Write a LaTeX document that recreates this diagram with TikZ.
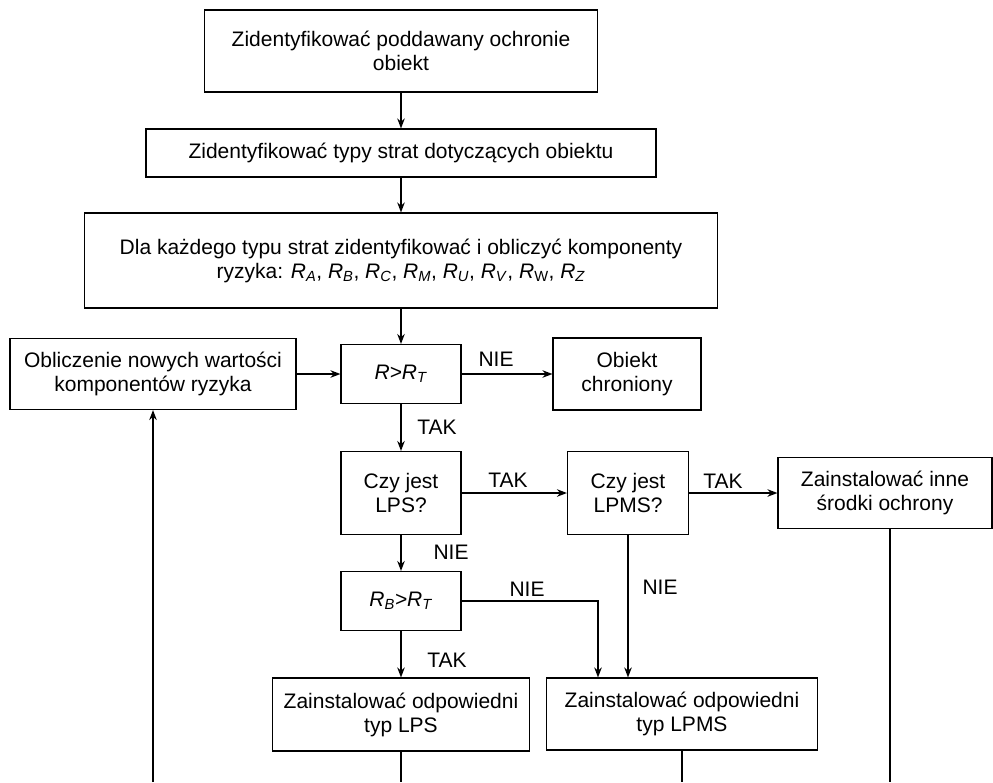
\documentclass[tikz,border=0pt]{standalone}
\usepackage{fontspec}
\setmainfont{Liberation Sans}
\usetikzlibrary{arrows.meta}
\newcommand\Rsub[1]{\textit{R}\textsubscript{\textit{#1}}}
\newcommand\Rsubup[1]{\textit{R}\textsubscript{#1}}
\begin{document}
\begin{tikzpicture}[x=1pt,y=-1pt,
  box/.style={draw, line width=1.1pt, align=center, inner sep=0pt, font=\fontsize{21}{24}\selectfont},
  lbl/.style={font=\fontsize{21}{24}\selectfont, inner sep=0pt},
  arr/.style={line width=2pt, -{Stealth[length=10pt,width=7.5pt]}},
  ln/.style={line width=2pt}]
\useasboundingbox (0,0) rectangle (993,782);

\node[box, minimum width=393pt, minimum height=82pt] (b1) at (401,51) {Zidentyfikować poddawany ochronie\\obiekt};
\node[box, minimum width=510pt, minimum height=48pt] (b2) at (401,153) {Zidentyfikować typy strat dotyczących obiektu};
\node[box, minimum width=633pt, minimum height=95pt] (b3) at (401,260.5) {Dla każdego typu strat zidentyfikować i obliczyć komponenty\\ryzyka: \Rsub{A}, \Rsub{B}, \Rsub{C}, \Rsub{M}, \Rsub{U}, \Rsub{V}, \Rsubup{W}, \Rsub{Z}};
\node[box, minimum width=286pt, minimum height=71pt] (calc) at (153,374) {Obliczenie nowych wartości\\komponentów ryzyka};
\node[box, minimum width=120pt, minimum height=59pt] (rrt) at (401,374) {\textit{R>}\Rsub{T}};
\node[box, minimum width=148pt, minimum height=72pt] (obj) at (627,374) {Obiekt\\chroniony};
\node[box, minimum width=120pt, minimum height=83pt] (lps) at (401,493) {Czy jest\\LPS?};
\node[box, minimum width=121pt, minimum height=83pt] (lpms) at (628,493) {Czy jest\\LPMS?};
\node[box, minimum width=214pt, minimum height=71pt] (inne) at (885,493) {Zainstalować inne\\środki ochrony};
\node[box, minimum width=120pt, minimum height=59pt] (rb) at (401,601) {\Rsub{B}\textit{>}\Rsub{T}};
\node[box, minimum width=257pt, minimum height=73pt] (ilps) at (401,714.5) {Zainstalować odpowiedni\\typ LPS};
\node[box, minimum width=271pt, minimum height=72pt] (ilpms) at (682,714) {Zainstalować odpowiedni\\typ LPMS};

\coordinate (ret) at (153,782);
\coordinate (e1) at (401,782);
\coordinate (e2) at (682,782);
\coordinate (e3) at (890,782);

\draw[arr] (b1.south) -- (b1.south |- b2.north);
\draw[arr] (b2.south) -- (b2.south |- b3.north);
\draw[arr] (rrt.north |- b3.south) -- (rrt.north);
\draw[arr] (calc.east) -- (rrt.west);
\draw[arr] (rrt.east) -- (rrt.east -| obj.west);
\draw[arr] (rrt.south) -- (lps.north);
\draw[arr] (lps.east) -- (lpms.west);
\draw[arr] (lpms.east) -- (lpms.east -| inne.west);
\draw[arr] (lps.south) -- (rb.north);
\draw[arr] (rb.south) -- (rb.south |- ilps.north);
\draw[arr] (rb.east) -| ([xshift=-84pt]ilpms.north);
\draw[arr] (lpms.south) -- (lpms.south |- ilpms.north);
\draw[arr] (ret) -- (calc.south);
\draw[ln] (ilps.south) -- (e1);
\draw[ln] (ilpms.south) -- (e2);
\draw[ln] (inne.south -| e3) -- (e3);

\node[lbl] (n1) at (496,359) {NIE};
\node[lbl] (t1) at (437,427) {TAK};
\node[lbl] (t2) at (508,480) {TAK};
\node[lbl] (t3) at (723,481) {TAK};
\node[lbl] (n2) at (451,552) {NIE};
\node[lbl] (n3) at (527,589) {NIE};
\node[lbl] (n4) at (660,587) {NIE};
\node[lbl] (t4) at (447,660) {TAK};
\end{tikzpicture}
\end{document}
